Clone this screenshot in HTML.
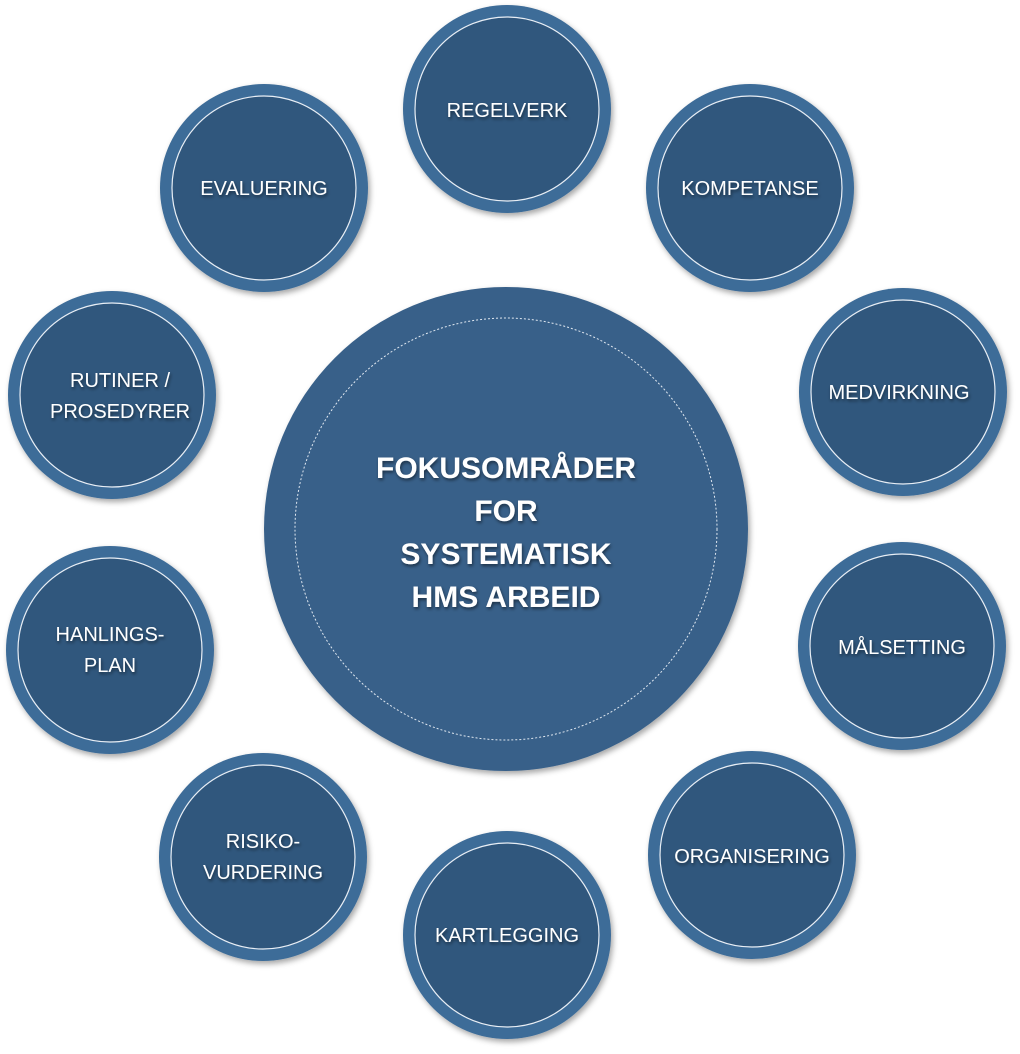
<!DOCTYPE html>
<html><head><style>
body{margin:0;background:#fff;}
svg{display:block}
text{font-family:"Liberation Sans",sans-serif;fill:#fff;text-anchor:middle;}
</style></head><body>
<svg width="1020" height="1054" viewBox="0 0 1020 1054">
<defs>
<filter id="sh" x="-20%" y="-20%" width="140%" height="140%"><feDropShadow dx="2" dy="3" stdDeviation="3" flood-color="#000" flood-opacity="0.35"/></filter>
<filter id="ts"><feDropShadow dx="1" dy="2" stdDeviation="1.5" flood-color="#000" flood-opacity="0.5"/></filter>
<g id="c"><circle r="104" fill="#3e6c98" filter="url(#sh)"/><circle r="92" fill="#30577d" stroke="#e8eef5" stroke-width="1.2"/></g>
</defs>
<circle cx="506" cy="529" r="242" fill="#386089" filter="url(#sh)"/>
<circle cx="506" cy="529" r="211" fill="none" stroke="#dfe7f0" stroke-width="1" stroke-dasharray="2,2"/>
<g font-size="30" font-weight="bold" filter="url(#ts)">
<text x="506" y="478">FOKUSOMRÅDER</text>
<text x="506" y="521">FOR</text>
<text x="506" y="564">SYSTEMATISK</text>
<text x="506" y="607">HMS ARBEID</text>
</g>
<use href="#c" x="507" y="109"/>
<use href="#c" x="264" y="188"/>
<use href="#c" x="750" y="188"/>
<use href="#c" x="112" y="395"/>
<use href="#c" x="903" y="392"/>
<use href="#c" x="110" y="650"/>
<use href="#c" x="902" y="646"/>
<use href="#c" x="263" y="857"/>
<use href="#c" x="752" y="855"/>
<use href="#c" x="507" y="935"/>
<g font-size="20" filter="url(#ts)">
<text x="507" y="117">REGELVERK</text>
<text x="264" y="195">EVALUERING</text>
<text x="750" y="195">KOMPETANSE</text>
<text x="120" y="387">RUTINER /</text>
<text x="120" y="418">PROSEDYRER</text>
<text x="899" y="399">MEDVIRKNING</text>
<text x="110" y="641">HANLINGS-</text>
<text x="110" y="672">PLAN</text>
<text x="902" y="654">MÅLSETTING</text>
<text x="263" y="848">RISIKO-</text>
<text x="263" y="879">VURDERING</text>
<text x="752" y="863">ORGANISERING</text>
<text x="507" y="942">KARTLEGGING</text>
</g>
</svg>
</body></html>
